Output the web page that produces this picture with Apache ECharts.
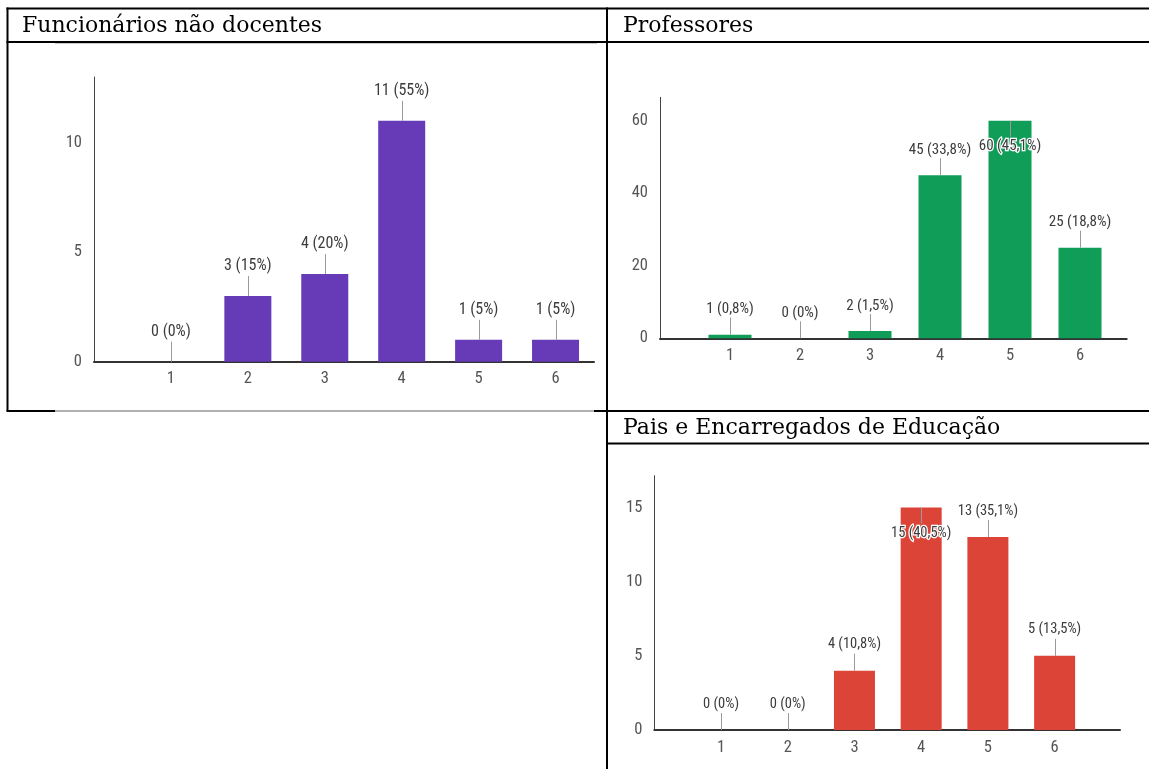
<!DOCTYPE html>
<html>
<head>
<meta charset="utf-8">
<script src="https://cdn.jsdelivr.net/npm/echarts@6/dist/echarts.min.js"></script>
<style>
  html, body { margin: 0; padding: 0; background: #fff; }
  #main { width: 1149px; height: 769px; }
</style>
</head>
<body>
<div id="main"></div>
<script>
// Answers on a 1–6 scale, one panel per respondent group
const categories = ['1', '2', '3', '4', '5', '6'];

const funcionariosCounts = [0, 3, 4, 11, 1, 1];
const funcionariosPct    = [0, 15, 20, 55, 5, 5];

const professoresCounts = [1, 0, 2, 45, 60, 25];
const professoresPct    = [0.8, 0, 1.5, 33.8, 45.1, 18.8];

const paisCounts = [0, 0, 4, 15, 13, 5];
const paisPct    = [0, 0, 10.8, 40.5, 35.1, 13.5];

const titles = ['Funcionários não docentes', 'Professores', 'Pais e Encarregados de Educação'];

const NARROW = "'Liberation Sans Narrow', 'Arial Narrow', 'Roboto Condensed', 'DejaVu Sans Condensed', sans-serif";
const SERIF = "'DejaVu Serif', 'Liberation Serif', serif";

// Panel layout and styling
const panels = [
  { counts: funcionariosCounts, pct: funcionariosPct, color: '#673ab7',
    grid: { left: 94, top: 77, width: 500, height: 284.7 },
    yMax: 13, yInterval: 5, xMax: 6.5, barWidth: 47, labelSize: 16, lead: 20, gap: 30 },
  { counts: professoresCounts, pct: professoresPct, color: '#0f9d58',
    grid: { left: 660, top: 97.3, width: 466.7, height: 241 },
    yMax: 66.5, yInterval: 20, xMax: 6.667, barWidth: 43, labelSize: 15, lead: 17, gap: 25 },
  { counts: paisCounts, pct: paisPct, color: '#db4437',
    grid: { left: 654.3, top: 475.7, width: 465.7, height: 254.3 },
    yMax: 17.14, yInterval: 5, xMax: 6.98, barWidth: 41, labelSize: 14.5, lead: 17, gap: 26 }
];

function fmtPct(p) {
  return (Number.isInteger(p) ? String(p) : p.toFixed(1).replace('.', ',')) + '%';
}

const grids = [], xAxes = [], yAxes = [], series = [];

panels.forEach((p, i) => {
  grids.push(Object.assign({ containLabel: false }, p.grid));

  xAxes.push({
    gridIndex: i, type: 'value', min: 0, max: p.xMax, interval: 1,
    axisLine: { show: true, onZero: false, lineStyle: { color: '#333', width: 2 } },
    axisTick: { show: false },
    splitLine: { show: false },
    axisLabel: {
      color: '#555', fontSize: 16.5, fontFamily: NARROW, margin: 9,
      showMinLabel: false, showMaxLabel: false,
      formatter: v => (Number.isInteger(v) && v >= 1 && v <= categories.length) ? categories[v - 1] : ''
    }
  });

  yAxes.push({
    gridIndex: i, type: 'value', min: 0, max: p.yMax, interval: p.yInterval,
    axisLine: { show: true, lineStyle: { color: '#444', width: 1 } },
    axisTick: { show: false },
    splitLine: { show: false },
    axisLabel: { color: '#555', fontSize: 16.5, fontFamily: NARROW, margin: 12, showMaxLabel: false }
  });

  const barData = p.counts.map((c, k) => [k + 1, c]);
  const labelData = p.counts.map((c, k) => [k + 1, c, k]);

  series.push({
    type: 'bar', xAxisIndex: i, yAxisIndex: i,
    data: barData, barWidth: p.barWidth,
    itemStyle: { color: p.color },
    silent: true, z: 2
  });

  // value labels with a short leader line to each bar top
  series.push({
    type: 'custom', xAxisIndex: i, yAxisIndex: i,
    data: labelData, clip: false, z: 5, silent: true,
    renderItem(params, api) {
      const x = api.value(0), v = api.value(1), k = api.value(2);
      const pt = api.coord([x, v]);
      const cs = params.coordSys;
      const text = p.counts[k] + ' (' + fmtPct(p.pct[k]) + ')';
      const half = p.labelSize * 0.6;
      let y1, y2, ty;
      if (pt[1] - p.gap - half < cs.y) {
        // not enough room above the plot: label goes inside the bar
        y1 = pt[1]; y2 = pt[1] + p.lead - 1; ty = pt[1] + p.gap;
      } else {
        y1 = pt[1] - p.lead; y2 = pt[1]; ty = pt[1] - p.gap;
      }
      const lx = Math.round(pt[0]) + 0.5;
      return {
        type: 'group',
        children: [
          { type: 'line', shape: { x1: lx, y1: y1, x2: lx, y2: y2 },
            style: { stroke: '#9a9a9a', lineWidth: 1 } },
          { type: 'text', x: pt[0], y: ty,
            style: { text: text, fill: '#3c3c3c', fontSize: p.labelSize, fontFamily: NARROW,
                     align: 'center', verticalAlign: 'middle',
                     stroke: '#fff', lineWidth: 2.5 } }
        ]
      };
    }
  });
});

// Table frame around the panels
const BLACK = '#000';
function hline(x1, x2, y, color, w) {
  return { type: 'line', silent: true, z: 10,
    shape: { x1: x1, y1: y, x2: x2, y2: y }, style: { stroke: color, lineWidth: w } };
}
function vline(x, y1, y2, color, w) {
  return { type: 'line', silent: true, z: 10,
    shape: { x1: x, y1: y1, x2: x, y2: y2 }, style: { stroke: color, lineWidth: w } };
}
function header(text, x, y) {
  return { type: 'text', silent: true, z: 10, x: x, y: y,
    style: { text: text, fill: '#000', fontSize: 22, fontFamily: SERIF, verticalAlign: 'middle' } };
}

const graphic = [
  hline(6.5, 1149, 8.5, BLACK, 2),
  vline(7.5, 7.5, 411, BLACK, 2),
  vline(607, 7.5, 769, BLACK, 2),
  hline(6.5, 1149, 42, BLACK, 2),
  hline(55, 597, 43.5, '#c8c8c8', 1),
  hline(6.5, 55, 411, BLACK, 2),
  hline(55, 594, 411, '#b0b0b0', 2),
  hline(594, 1149, 411, BLACK, 2),
  hline(606, 1149, 443.5, BLACK, 2),
  header(titles[0], 22, 26.5),
  header(titles[1], 623, 26.5),
  header(titles[2], 623, 428.5)
];

const chart = echarts.init(document.getElementById('main'), null, { renderer: 'canvas' });
chart.setOption({
  animation: false,
  backgroundColor: '#fff',
  grid: grids,
  xAxis: xAxes,
  yAxis: yAxes,
  series: series,
  graphic: graphic
});
</script>
</body>
</html>
